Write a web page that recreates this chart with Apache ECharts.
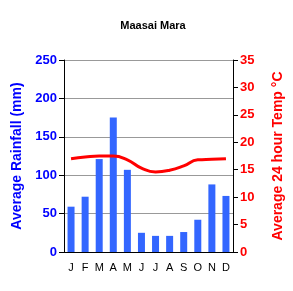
<!DOCTYPE html>
<html><head><meta charset="utf-8">
<script src="https://cdn.jsdelivr.net/npm/echarts@6/dist/echarts.min.js"></script>
<style>html,body{margin:0;padding:0;background:#fff}#c{width:293px;height:291px}</style>
</head><body><div id="c"></div>
<script>
const months = ['J','F','M','A','M','J','J','A','S','O','N','D'];
const rainfall = [59, 72, 121, 175, 107, 25, 21, 21, 26, 42, 88, 73];
const temperature = [17.0, 17.3, 17.5, 17.5, 16.8, 15.3, 14.6, 14.9, 15.7, 16.8, 16.9, 17.0];
const rainTicks = [0, 50, 100, 150, 200, 250];
const tempTicks = [0, 5, 10, 15, 20, 25, 30, 35];

const chart = echarts.init(document.getElementById('c'));
chart.setOption({
  animation: false,
  backgroundColor: '#ffffff',
  title: { text: 'Maasai Mara', left: 148, top: 15, textAlign: 'center',
    textStyle: { fontFamily: 'Liberation Sans', fontSize: 11, fontWeight: 'bold', color: '#000' } },
  grid: { left: 64, right: 58, top: 60, bottom: 39 },
  xAxis: {
    type: 'category', data: months,
    axisLine: { lineStyle: { color: '#000', width: 1 } },
    axisTick: { show: false },
    axisLabel: { color: '#000', fontSize: 11, fontFamily: 'Liberation Sans', margin: 10 }
  },
  yAxis: [
    { type: 'value', min: rainTicks[0], max: rainTicks[rainTicks.length-1], interval: 50,
      name: 'Average Rainfall (mm)', nameLocation: 'middle', nameGap: 37, nameRotate: 90,
      nameTextStyle: { color: '#0000ff', fontSize: 14, fontWeight: 'bold', fontFamily: 'Liberation Sans' },
      axisLine: { show: true, lineStyle: { color: '#000' } },
      axisTick: { show: true, length: 5, lineStyle: { color: '#000' } },
      axisLabel: { color: '#0000ff', fontSize: 13, fontWeight: 'bold', fontFamily: 'Liberation Sans', margin: 7 },
      splitLine: { lineStyle: { color: '#999', width: 1 } }
    },
    { type: 'value', min: tempTicks[0], max: tempTicks[tempTicks.length-1], interval: 5, position: 'right',
      name: 'Average 24 hour Temp °C', nameLocation: 'middle', nameGap: 38, nameRotate: 90,
      nameTextStyle: { color: '#ff0000', fontSize: 14, fontWeight: 'bold', fontFamily: 'Liberation Sans' },
      axisLine: { show: true, lineStyle: { color: '#000' } },
      axisTick: { show: true, length: 5, lineStyle: { color: '#000' } },
      axisLabel: { color: '#ff0000', fontSize: 13, fontWeight: 'bold', fontFamily: 'Liberation Sans', margin: 7 },
      splitLine: { show: false }
    }
  ],
  series: [
    { type: 'bar', data: rainfall, yAxisIndex: 0, barWidth: 7, itemStyle: { color: '#3366ff' } },
    { type: 'line', data: temperature, yAxisIndex: 1, smooth: 0.5, symbol: 'none',
      lineStyle: { color: '#ff0000', width: 3 } }
  ]
});
</script></body></html>
